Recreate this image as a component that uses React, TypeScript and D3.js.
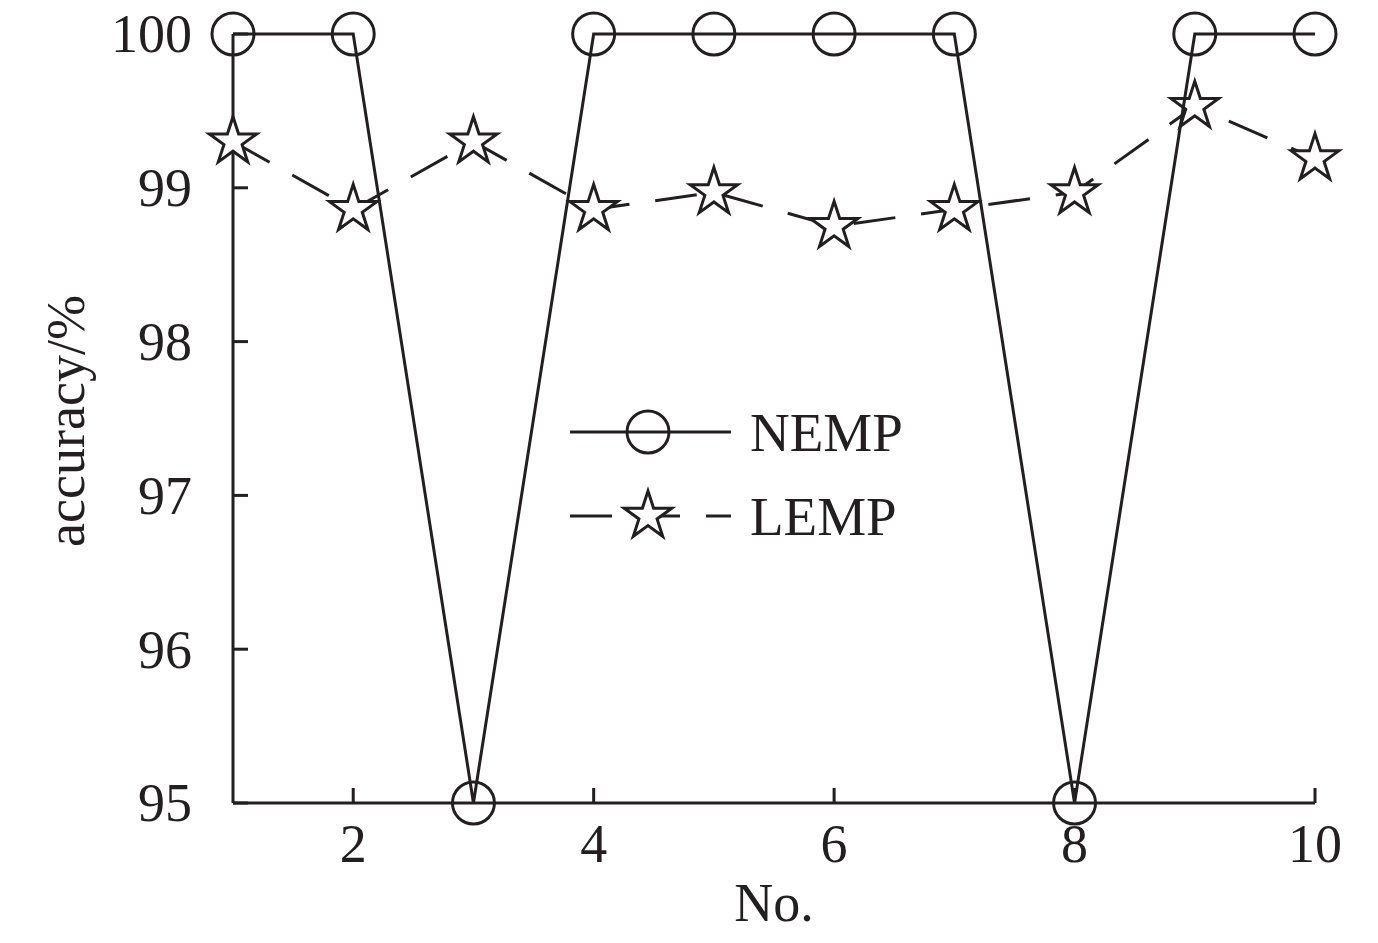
import React from "react";
import * as d3 from "d3";

const categories = [1, 2, 3, 4, 5, 6, 7, 8, 9, 10];
const nempValues = [100, 100, 95, 100, 100, 100, 100, 95, 100, 100];
const lempValues = [99.3, 98.86, 99.3, 98.86, 98.97, 98.75, 98.86, 98.97, 99.53, 99.19];
const xTicks = [2, 4, 6, 8, 10];
const yTicks = [95, 96, 97, 98, 99, 100];
const seriesNames = ["NEMP", "LEMP"];

const W = 1378;
const H = 943;
const C = "#231f20";
const FONT = "'Liberation Serif', 'Times New Roman', serif";

export default function App() {
  const x = d3.scaleLinear().domain([1, 10]).range([233, 1315]);
  const y = d3.scaleLinear().domain([95, 100]).range([803, 34]);

  const nempPts: [number, number][] = categories.map((c, i) => [x(c), y(nempValues[i])]);
  const lempPts: [number, number][] = categories.map((c, i) => [x(c), y(lempValues[i])]);
  const line = d3.line();
  const star = d3.symbol().type(d3.symbolStar).size(700)() as string;

  const lx0 = 570, lx1 = 731, lcx = 648;
  const ly0 = 432, ly1 = 516;

  return (
    <svg width={W} height={H} style={{ position: "absolute", left: 0, top: 0, background: "#fff" }}>
      <rect width={W} height={H} fill="#fff" />
      {/* axes */}
      <line x1={x(1)} x2={x(10)} y1={y(95)} y2={y(95)} stroke={C} strokeWidth={3} />
      <line x1={x(1)} x2={x(1)} y1={y(95)} y2={y(100)} stroke={C} strokeWidth={3} />
      {xTicks.map((t) => (
        <g key={"xt" + t}>
          <line x1={x(t)} x2={x(t)} y1={y(95)} y2={y(95) - 15} stroke={C} strokeWidth={3} />
          <text x={x(t)} y={862} textAnchor="middle" fontFamily={FONT} fontSize={54} fill={C}>
            {t}
          </text>
        </g>
      ))}
      {yTicks.map((t) => (
        <g key={"yt" + t}>
          <line x1={x(1)} x2={x(1) + 15} y1={y(t)} y2={y(t)} stroke={C} strokeWidth={3} />
          <text x={192} y={y(t)} dy="0.34em" textAnchor="end" fontFamily={FONT} fontSize={54} fill={C}>
            {t}
          </text>
        </g>
      ))}
      <text x={774} y={921} textAnchor="middle" fontFamily={FONT} fontSize={54} fill={C}>
        No.
      </text>
      <text
        transform={`translate(84,421) rotate(-90)`}
        textAnchor="middle"
        fontFamily={FONT}
        fontSize={54}
        fill={C}
      >
        accuracy/%
      </text>

      {/* LEMP */}
      <path d={line(lempPts) as string} fill="none" stroke={C} strokeWidth={3} strokeDasharray="42 26" />
      {lempPts.map((p, i) => (
        <path key={"s" + i} d={star} transform={`translate(${p[0]},${p[1]})`} fill="#fff" stroke={C} strokeWidth={3} />
      ))}

      {/* NEMP */}
      <path d={line(nempPts) as string} fill="none" stroke={C} strokeWidth={3} />
      {nempPts.map((p, i) => (
        <circle key={"c" + i} cx={p[0]} cy={p[1]} r={21} fill="none" stroke={C} strokeWidth={3} />
      ))}

      {/* legend */}
      <line x1={lx0} x2={lx1} y1={ly0} y2={ly0} stroke={C} strokeWidth={3} />
      <circle cx={lcx} cy={ly0} r={21} fill="none" stroke={C} strokeWidth={3} />
      <text x={750} y={ly0} dy="0.35em" fontFamily={FONT} fontSize={55} fill={C}>
        {seriesNames[0]}
      </text>
      <line x1={lx0} x2={lx1} y1={ly1} y2={ly1} stroke={C} strokeWidth={3} strokeDasharray="42 26" />
      <path d={star} transform={`translate(${lcx},${ly1})`} fill="#fff" stroke={C} strokeWidth={3} />
      <text x={750} y={ly1} dy="0.35em" fontFamily={FONT} fontSize={55} fill={C}>
        {seriesNames[1]}
      </text>
    </svg>
  );
}
